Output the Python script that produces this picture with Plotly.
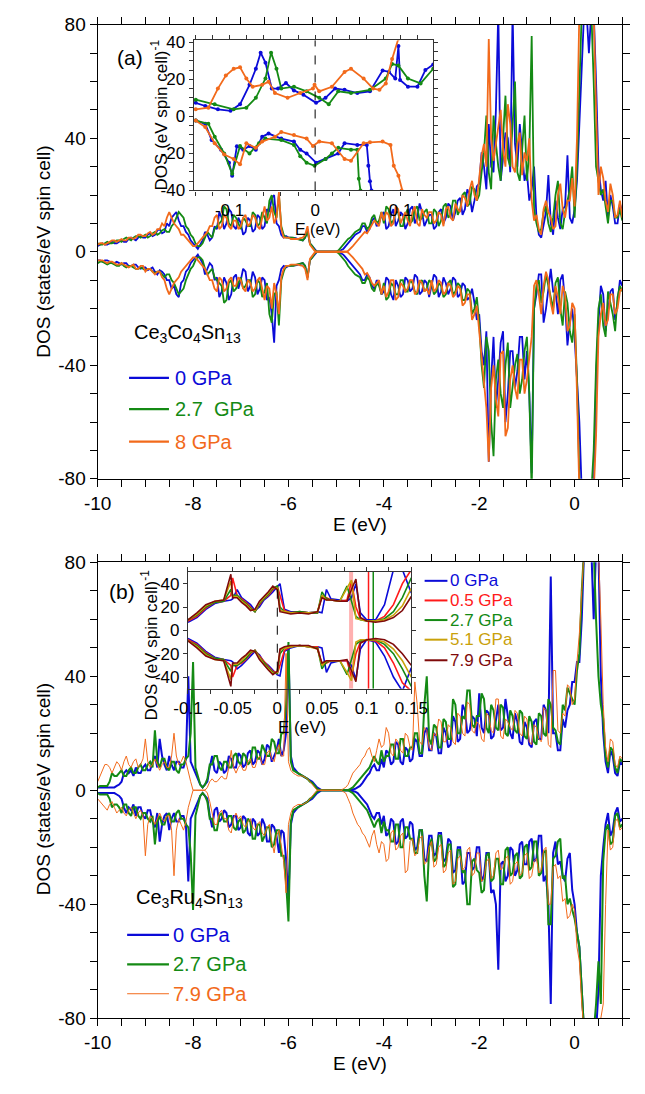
import numpy as np
import plotly.graph_objects as go

W, H = 645, 1094
FONT = "Arial, Liberation Sans, Helvetica, sans-serif"

BLUE = "#0b0bd8"
GREEN = "#148a14"
ORANGE = "#f26a1b"
RED = "#ff1a1a"
GOLD = "#c9a10a"
DARKRED = "#7f0a0a"

# ---------------- main energy grid (eV), 0.05 eV sampling ----------------
E_main = np.round(np.arange(-10.0, 1.0001, 0.05), 2)

# ---------------- panel (a) Ce3Co4Sn13 (rows of 1 eV) ----------------
co_0_up = [2, 2.5, 3, 2.5, 2.5, 3, 3.5, 3, 3, 3.5, 4, 3.5, 3.5, 4.5, 5, 4.5, 4, 5, 5.5, 5,
           5, 6, 6.5, 5.5, 6, 7.5, 8, 6.5, 7, 10, 9, 12, 13, 14, 11, 9, 9, 7, 6, 4,
           3, 2, 1, 2.5, 4, 7, 6, 4, 5, 9, 8, 14, 12, 8, 10, 15, 14, 9, 8, 12,
           10, 6, 7, 12, 11, 7, 8, 13, 12, 8, 9, 15, 14, 19, 20, 10, 9, 6, 5, 5.5,
           5, 5, 5, 4.8, 4.5, 4.3, 4, 5, 8, 3, 2, 0.8, 0, 0, 0, 0, 0, 0, 0, 0,
           0, 0, 0.5, 1, 2, 3, 4, 5, 6, 6.5, 7, 9, 9, 7, 8, 11, 12, 9, 10, 13,
           14, 8, 9, 13, 15, 9, 11, 14, 13, 8, 10, 15, 16, 10, 12, 17, 14, 9, 11, 13,
           13, 8, 9, 14, 15, 10, 12, 17, 16, 11, 14, 18, 19, 13, 15, 22, 20, 14, 18, 23,
           24, 35, 30, 22, 45, 30, 28, 50, 85, 25, 33, 42, 40, 28, 85, 38, 30, 45, 35, 25,
           28, 18, 22, 30, 12, 6, 5, 9, 14, 27, 10, 6, 18, 12, 8, 15, 16, 34, 12, 10,
           15, 25, 45, 70, 85, 85, 70, 85, 85, 60, 30, 22, 18, 25, 12, 20, 16, 10, 10, 17,
           14]
co_0_dn = [-3, -3, -3.5, -3, -3, -3.5, -4, -4, -3.5, -4, -4.5, -4, -4, -5, -5, -4.5, -4.5, -5.5, -6, -5.5,
           -5.5, -6.5, -6, -5.5, -7, -8, -6.5, -7, -8, -10, -10, -13, -12, -15, -16, -11, -10, -7, -6, -4,
           -3, -2, -1, -2.5, -4, -8, -6, -4, -5, -10, -9, -16, -14, -9, -11, -17, -15, -9, -8, -13,
           -10, -6, -7, -14, -12, -7, -9, -15, -13, -9, -10, -17, -16, -22, -32, -12, -10, -6, -5, -5.5,
           -5, -5, -5, -4.8, -4.5, -4.3, -4, -5, -9, -3, -2, -0.8, 0, 0, 0, 0, 0, 0, 0, 0,
           0, 0, -0.5, -1, -2, -3, -4, -5, -6, -7, -8, -10, -10, -8, -9, -12, -13, -10, -11, -15,
           -14, -9, -10, -15, -17, -10, -12, -16, -15, -9, -10, -14, -13, -8, -9, -15, -14, -10, -11, -16,
           -12, -8, -9, -16, -14, -9, -11, -15, -13, -9, -10, -16, -15, -11, -12, -17, -16, -13, -18, -24,
           -22, -35, -40, -28, -74, -45, -30, -55, -45, -32, -28, -60, -50, -35, -35, -48, -42, -30, -30, -45,
           -35, -50, -78, -20, -15, -8, -8, -25, -20, -12, -6, -14, -14, -22, -10, -8, -18, -33, -25, -20,
           -30, -45, -60, -85, -85, -85, -85, -85, -85, -45, -25, -12, -15, -28, -20, -14, -13, -24, -18, -10,
           -12]
co_27_up = [3, 2.5, 2.5, 3, 3.5, 3, 3, 3.5, 4, 4, 3.5, 4.5, 5, 4.5, 4, 5, 5.5, 5.5, 5, 5.5,
            6, 5, 5.5, 6.5, 7, 6, 6.5, 7.5, 8, 7, 7, 9, 10, 12, 14, 13, 12, 9, 8, 6,
            5, 3, 2, 2, 3, 5, 7, 6, 5, 8, 9, 10, 11, 16, 15, 10, 9, 13, 12, 10,
            8, 12, 11, 9, 9, 14, 13, 9, 10, 14, 12, 10, 18, 20, 14, 12, 20, 9, 6, 5,
            5, 5, 5, 4.6, 4.5, 4.2, 4, 5, 7, 3, 2, 0.6, 0, 0, 0, 0, 0, 0, 0, 0,
            0, 0.5, 1.5, 2.5, 3.5, 4.5, 5, 6, 7, 7.5, 8, 10, 10, 8, 9, 12, 13, 10, 11, 14,
            10, 16, 15, 10, 11, 14, 14, 9, 9, 13, 15, 10, 11, 15, 16, 11, 12, 14, 15, 10,
            10, 15, 14, 9, 11, 16, 17, 12, 13, 18, 18, 13, 15, 20, 21, 16, 17, 23, 22, 18,
            20, 28, 35, 48, 28, 22, 48, 38, 30, 25, 42, 55, 33, 30, 45, 60, 28, 25, 36, 48,
            25, 35, 76, 15, 10, 7, 8, 14, 16, 10, 7, 12, 20, 25, 10, 8, 14, 18, 22, 30,
            12, 30, 60, 85, 85, 85, 85, 85, 60, 30, 25, 20, 22, 16, 10, 18, 18, 12, 12, 15,
            11]
co_27_dn = [-4, -3.5, -3.5, -4, -4.5, -4, -4, -4.5, -5, -5, -4, -5, -5.5, -5, -5, -5.5, -6, -6, -5.5, -6,
            -6.5, -6, -6, -7, -7.5, -7, -7, -8, -9, -8, -8, -10, -11, -13, -15, -14, -13, -10, -8, -6,
            -5, -3, -2, -2, -3, -6, -8, -7, -6, -9, -10, -11, -12, -18, -17, -11, -10, -14, -13, -11,
            -9, -13, -12, -10, -10, -16, -15, -10, -11, -16, -14, -11, -22, -25, -15, -14, -26, -10, -7, -5,
            -5, -5, -5, -4.6, -4.5, -4.2, -4, -5, -9, -3, -2, -0.6, 0, 0, 0, 0, 0, 0, 0, 0,
            0, -0.5, -1.5, -2.5, -3.5, -5, -6, -7, -8, -8.5, -9, -11, -11, -9, -10, -13, -14, -11, -12, -15,
            -11, -17, -16, -11, -12, -15, -15, -10, -10, -14, -14, -10, -11, -14, -15, -11, -10, -14, -13, -10,
            -11, -15, -14, -11, -12, -16, -15, -11, -10, -15, -14, -11, -12, -17, -17, -13, -14, -22, -20, -16,
            -25, -40, -48, -30, -35, -60, -72, -45, -38, -50, -55, -40, -32, -55, -48, -40, -36, -50, -45, -35,
            -30, -50, -85, -20, -12, -10, -18, -14, -8, -12, -16, -20, -11, -9, -20, -26, -14, -18, -28, -32,
            -22, -45, -80, -85, -85, -85, -85, -85, -70, -40, -20, -15, -26, -30, -14, -18, -22, -28, -16, -12,
            -14]
co_8_up = [2.5, 3, 3, 2.5, 3, 3.5, 4, 4, 3.5, 4, 4.5, 4, 4, 5, 5, 4.5, 5, 6, 6, 5.5,
           5.5, 6.5, 7, 6, 6.5, 8, 8, 10, 9, 12, 14, 12, 10, 9, 8, 6, 6, 5, 4, 3,
           2, 2, 3, 4, 5, 6, 7, 9, 9, 12, 13, 8, 9, 13, 12, 9, 8, 11, 11, 8,
           9, 12, 13, 9, 10, 13, 12, 9, 8, 12, 16, 11, 12, 16, 10, 12, 21, 8, 5, 5,
           5, 4.5, 4.5, 4.5, 4.5, 4.8, 5, 6, 9, 2.5, 1.5, 0.3, 0, 0, 0, 0, 0, 0, 0, 0,
           0, 0, 0, 0, 0, 0.3, 1, 2, 3, 4, 5, 6, 7, 6.5, 8, 10, 11, 10, 9, 14,
           11, 14, 13, 9, 10, 16, 15, 10, 12, 14, 11, 9, 14, 16, 10, 9, 15, 13, 12, 14,
           14, 10, 11, 14, 13, 9, 15, 16, 12, 11, 17, 15, 14, 20, 19, 16, 22, 25, 20, 18,
           26, 34, 38, 30, 75, 40, 32, 38, 44, 50, 36, 30, 52, 45, 30, 28, 38, 42, 27, 35,
           32, 40, 18, 11, 13, 8, 6, 15, 18, 14, 12, 8, 9, 20, 24, 15, 12, 18, 18, 26,
           16, 40, 85, 85, 85, 85, 85, 85, 85, 50, 20, 30, 26, 18, 14, 24, 20, 12, 13, 18,
           12]
co_8_dn = [-3, -3, -3, -3.5, -4, -3.5, -3.5, -4, -4.5, -4.5, -4, -4.5, -5, -5.5, -5, -4.5, -6, -6, -5, -5,
           -7, -6, -6, -7, -8, -7, -7, -9, -10, -13, -15, -13, -11, -10, -9, -7, -6, -5, -4, -3,
           -2, -2, -3, -4, -5, -6, -8, -10, -10, -13, -14, -9, -10, -14, -13, -10, -9, -12, -12, -9,
           -10, -13, -14, -10, -11, -14, -13, -10, -9, -13, -17, -12, -13, -20, -11, -15, -22, -9, -6, -5,
           -5, -4.5, -4.5, -4.5, -4.5, -4.8, -5, -6, -10, -2.5, -1.5, -0.3, 0, 0, 0, 0, 0, 0, 0, 0,
           0, 0, 0, 0, 0, -0.3, -1, -2, -3, -4, -5, -6, -8, -7.5, -9, -11, -12, -11, -10, -15,
           -12, -16, -14, -10, -10, -17, -16, -11, -12, -14, -13, -10, -10, -15, -14, -10, -11, -14, -13, -15,
           -10, -14, -13, -10, -11, -15, -14, -11, -12, -16, -15, -12, -13, -19, -18, -15, -15, -24, -22, -19,
           -28, -38, -45, -55, -74, -48, -40, -52, -58, -36, -35, -65, -62, -45, -40, -48, -52, -38, -38, -50,
           -45, -38, -30, -12, -10, -15, -22, -12, -7, -10, -18, -22, -12, -16, -22, -12, -15, -28, -26, -18,
           -20, -50, -85, -85, -85, -85, -85, -85, -85, -65, -30, -22, -18, -26, -24, -15, -15, -22, -20, -14,
           -13]

# inset (a): energies near E_F and DOS
ia_0_up_E = [-0.1396, -0.1285, -0.1137, -0.0989, -0.0878, -0.0767, -0.0693, -0.0637, -0.0581, -0.0507,
             -0.0433, -0.0341, -0.0248, -0.0137, 0.0011, 0.0122, 0.0233, 0.0344, 0.0493, 0.0641,
             0.0789, 0.0863, 0.0937, 0.0974, 0.0993, 0.1085, 0.1196, 0.1289, 0.1381]
ia_0_up = [7.3, 5.6, 3.8, 3, 6.5, 17, 25.7, 34.4, 29, 15,
           15, 18, 14, 11.7, 7.3, 10, 15, 14.3, 12.6, 13.5,
           24.8, 24, 20.4, 38, 19.6, 16, 16, 25, 28]
ia_27_up_E = [-0.1396, -0.1174, -0.0952, -0.0804, -0.0693, -0.0581, -0.0515, -0.0452, -0.0396, -0.0248,
              -0.0100, 0.0048, 0.0159, 0.0270, 0.0419, 0.0641, 0.0826, 0.0900, 0.0974, 0.1085,
              0.1233, 0.1381]
ia_27_up = [9, 6.5, 3.8, 4.7, 10, 20.4, 34.4, 25.7, 15, 16,
            13.5, 10, 6.5, 13.5, 12.6, 14.3, 20.4, 28.3, 27.4, 20.4,
            17.8, 25.7]
ia_8_up_E = [-0.1396, -0.1248, -0.1137, -0.1044, -0.0952, -0.0878, -0.0804, -0.0730, -0.0619, -0.0544,
             -0.0470, -0.0322, -0.0174, -0.0026, -0.0007, 0.0048, 0.0196, 0.0344, 0.0419, 0.0567,
             0.0678, 0.0752, 0.0826, 0.0900, 0.0974]
ia_8_up = [3.8, 4.7, 15, 22, 25.7, 26.5, 20.4, 16, 17, 18.7,
           12.6, 10, 12.6, 15, 17, 13.5, 16, 24, 25.7, 20.4,
           15, 14.3, 17.8, 31, 42]
ia_0_dn_E = [-0.1396, -0.1285, -0.1211, -0.1100, -0.1007, -0.0970, -0.0915, -0.0841, -0.0767, -0.0693,
             -0.0619, -0.0544, -0.0396, -0.0248, -0.0174, -0.0100, 0.0011, 0.0122, 0.0270, 0.0344,
             0.0493, 0.0604, 0.0622, 0.0641, 0.0659, 0.0696]
ia_0_dn = [-2.3, -4, -12.8, -18, -25, -32, -16.2, -18, -16, -18,
           -11, -9.3, -12, -13.6, -18, -20, -25, -23, -20, -14.5,
           -15.4, -15.4, -26.7, -35, -40, -45]
ia_27_dn_E = [-0.1396, -0.1248, -0.1174, -0.1063, -0.0970, -0.0878, -0.0767, -0.0656, -0.0581, -0.0396,
              -0.0248, -0.0174, -0.0100, -0.0007, 0.0122, 0.0196, 0.0270, 0.0419, 0.0493, 0.0511,
              0.0530, 0.0567]
ia_27_dn = [-2.3, -4, -11, -20, -31, -16, -20, -14.5, -12, -12.8,
            -15.4, -21.5, -25, -26.7, -23, -20, -17, -18, -18, -33.7,
            -40, -45]
ia_8_dn_E = [-0.1396, -0.1285, -0.1174, -0.1063, -0.0952, -0.0878, -0.0804, -0.0693, -0.0619, -0.0470,
             -0.0396, -0.0248, -0.0100, -0.0026, 0.0048, 0.0196, 0.0344, 0.0419, 0.0567, 0.0641,
             0.0789, 0.0881, 0.0919, 0.0974, 0.1011, 0.1048]
ia_8_dn = [-2.3, -5.8, -14.5, -20.6, -23, -25.9, -14.5, -17, -13.6, -11,
           -8.4, -10, -12, -16, -13.6, -14.5, -23, -24, -14.5, -14,
           -13.6, -15.4, -26.7, -32, -40, -45]

# ---------------- panel (b) Ce3Ru4Sn13 (rows of 1 eV) ----------------
ru_0_up = [1, 1, 1, 1, 1, 1, 1, 1, 1.5, 2, 3, 6, 7, 6, 7, 5, 8, 6, 6, 8,
           9, 7, 7, 10, 12, 8, 18, 12, 9, 7, 12, 9, 7, 10, 10, 8, 8, 11, 40, 10,
           8, 6, 4, 2, 1, 2, 3, 8, 12, 7, 6, 10, 9, 6, 7, 12, 11, 8, 8, 13,
           12, 8, 9, 13, 14, 9, 10, 14, 13, 9, 11, 16, 15, 10, 12, 14, 18, 12, 14, 20,
           50, 12, 8, 7, 6, 5.5, 5, 4.5, 4, 3.5, 3, 2, 1, 0.5, 0, 0, 0, 0, 0, 0,
           0, 0, 0, 0, 0, 0, 0, 0.3, 0.5, 1, 1.5, 2.5, 4, 5, 6, 8, 9, 7, 7, 11,
           8, 14, 13, 9, 10, 17, 16, 10, 9, 15, 14, 10, 11, 18, 17, 12, 12, 20, 22, 14,
           14, 20, 19, 13, 13, 22, 20, 15, 16, 26, 24, 17, 18, 30, 28, 20, 21, 26, 25, 19,
           34, 22, 20, 28, 27, 18, 19, 25, 30, 21, 22, 32, 26, 20, 18, 27, 24, 17, 16, 24,
           22, 16, 15, 24, 25, 18, 18, 30, 28, 20, 75, 20, 20, 14, 14, 25, 22, 28, 30, 38,
           38, 45, 45, 60, 85, 85, 85, 85, 60, 85, 85, 40, 20, 10, 6, 14, 12, 6, 5, 10,
           9]
ru_0_dn = [-1, -1, -1, -1, -1, -1, -1, -1, -1.5, -2, -3, -6, -8, -6, -7, -5, -9, -6, -6, -9,
           -10, -7, -7, -11, -13, -8, -18, -12, -9, -8, -14, -10, -8, -11, -11, -9, -9, -12, -32, -10,
           -8, -6, -4, -2, -1, -2, -3, -9, -13, -7, -6, -11, -10, -7, -8, -13, -12, -9, -9, -14,
           -13, -9, -10, -15, -16, -10, -11, -16, -15, -10, -12, -18, -18, -12, -13, -16, -22, -14, -15, -24,
           -38, -12, -8, -7, -6, -5.5, -5, -4.5, -4, -3.5, -3, -2, -1, -0.5, 0, 0, 0, 0, 0, 0,
           0, 0, 0, 0, 0, 0, 0, -0.3, -0.5, -1, -2, -3, -4, -5, -7, -9, -10, -8, -8, -12,
           -9, -16, -15, -10, -11, -19, -18, -11, -10, -17, -16, -11, -12, -21, -20, -14, -14, -24, -25, -16,
           -16, -23, -22, -15, -15, -25, -24, -17, -18, -29, -28, -20, -20, -33, -32, -22, -22, -28, -27, -20,
           -20, -32, -30, -22, -22, -36, -35, -40, -63, -26, -25, -32, -30, -20, -21, -30, -28, -19, -18, -26,
           -26, -18, -17, -25, -24, -16, -16, -32, -30, -40, -75, -22, -18, -26, -25, -30, -32, -24, -22, -35,
           -40, -50, -55, -70, -85, -85, -85, -85, -85, -85, -70, -30, -20, -12, -8, -16, -14, -8, -6, -11,
           -10]
ru_27_up = [1, 1.5, 1.5, 1.5, 1.5, 3, 6, 5, 5, 6, 7, 5, 5, 7, 8, 6, 6, 8, 9, 7,
            7, 9, 10, 8, 21, 10, 8, 11, 11, 8, 7, 10, 10, 7, 6, 9, 9, 11, 12, 20,
            45, 8, 5, 2, 1, 2, 4, 9, 9, 12, 12, 8, 7, 10, 10, 8, 8, 12, 13, 10,
            9, 13, 12, 9, 10, 15, 15, 11, 11, 16, 14, 12, 12, 18, 17, 13, 13, 20, 20, 30,
            52, 10, 7, 6.5, 6, 5.5, 5, 4.5, 4, 3, 2.5, 1.5, 0.5, 0, 0, 0, 0, 0, 0, 0,
            0, 0, 0, 0, 0, 0, 0.5, 1, 2, 3, 4, 5, 6, 7, 8, 10, 12, 10, 9, 14,
            10, 12, 12, 16, 16, 11, 11, 18, 18, 12, 12, 15, 15, 20, 20, 13, 13, 30, 40, 18,
            16, 23, 22, 15, 15, 25, 24, 18, 18, 32, 30, 20, 20, 26, 25, 35, 35, 23, 22, 26,
            26, 34, 32, 22, 20, 30, 28, 22, 21, 30, 29, 20, 19, 28, 26, 21, 20, 28, 27, 19,
            18, 26, 24, 17, 16, 27, 26, 20, 19, 32, 30, 22, 21, 17, 16, 30, 28, 36, 34, 32,
            30, 42, 48, 70, 85, 85, 85, 85, 85, 60, 40, 30, 25, 12, 8, 15, 14, 8, 6, 11,
            10]
ru_27_dn = [-1, -1.5, -1.5, -1.5, -1.5, -3, -6, -5, -5, -6, -8, -5, -5, -8, -9, -6, -6, -9, -10, -8,
            -8, -10, -11, -9, -19, -11, -9, -12, -12, -9, -8, -11, -11, -8, -7, -10, -10, -12, -13, -22,
            -42, -9, -5, -2, -1, -2, -4, -10, -10, -14, -14, -9, -8, -11, -11, -9, -9, -13, -14, -11,
            -10, -15, -14, -10, -11, -17, -17, -12, -12, -18, -16, -13, -13, -20, -19, -14, -14, -23, -23, -32,
            -46, -11, -7, -6.5, -6, -5.5, -5, -4.5, -4, -3, -2.5, -1.5, -0.5, 0, 0, 0, 0, 0, 0, 0,
            0, 0, 0, 0, 0, 0, -0.5, -1, -2, -3, -4, -5, -6, -7, -9, -11, -13, -11, -10, -15,
            -11, -14, -14, -18, -18, -12, -12, -20, -20, -13, -13, -17, -17, -22, -22, -14, -14, -30, -39, -20,
            -17, -25, -24, -16, -16, -27, -26, -19, -19, -34, -33, -21, -21, -29, -28, -40, -40, -25, -24, -28,
            -29, -36, -35, -23, -22, -32, -31, -24, -24, -33, -33, -21, -20, -30, -29, -23, -22, -31, -30, -20,
            -19, -28, -27, -18, -18, -30, -29, -22, -21, -47, -47, -24, -23, -18, -17, -31, -30, -40, -38, -42,
            -45, -50, -55, -70, -85, -85, -85, -85, -85, -75, -60, -75, -25, -14, -12, -19, -18, -9, -8, -13,
            -12]
ru_79_up = [3, 5, 7, 9, 9, 8, 6, 8, 10, 9, 7, 10, 12, 9, 8, 10, 11, 8, 9, 11,
            18, 10, 8, 9, 11, 9, 7, 9, 10, 8, 8, 12, 20, 12, 9, 10, 12, 10, 6, 3,
            0, 0, 0, 0, 0, 0, 1, 3, 4, 3, 3, 4, 5, 4, 4, 8, 14, 8, 6, 8,
            9, 7, 7, 10, 11, 8, 8, 11, 12, 9, 9, 13, 14, 11, 10, 14, 16, 12, 12, 48,
            10, 7, 6, 5.5, 5, 5, 5, 4.5, 4, 3, 2, 1, 0, 0, 0, 0, 0, 0, 0, 0,
            0, 0, 0, 0.5, 1, 2, 4, 6, 7, 8, 9, 11, 12, 14, 15, 12, 10, 14, 18, 15,
            16, 22, 20, 13, 12, 18, 17, 14, 13, 20, 19, 15, 14, 38, 30, 17, 16, 22, 21, 15,
            14, 20, 19, 25, 24, 17, 17, 23, 22, 17, 16, 27, 26, 20, 19, 31, 30, 21, 20, 24,
            23, 18, 17, 27, 26, 21, 20, 32, 32, 19, 18, 25, 24, 22, 21, 28, 27, 20, 19, 26,
            25, 17, 16, 23, 22, 18, 17, 29, 28, 16, 15, 42, 42, 21, 20, 27, 26, 37, 36, 30,
            32, 45, 55, 70, 85, 85, 85, 85, 85, 85, 85, 60, 30, 15, 10, 18, 17, 9, 8, 12,
            11]
ru_79_dn = [-3, -4, -5, -6, -7, -5, -4, -6, -8, -7, -6, -8, -9, -7, -6, -8, -10, -8, -7, -9,
            -23, -12, -9, -10, -12, -10, -8, -10, -11, -9, -9, -14, -30, -14, -10, -12, -14, -11, -6, -3,
            0, 0, 0, 0, 0, 0, -1, -4, -8, -12, -12, -8, -7, -10, -10, -14, -15, -10, -8, -10,
            -9, -12, -13, -11, -10, -13, -14, -12, -11, -15, -16, -13, -12, -18, -22, -16, -14, -20, -25, -36,
            -12, -8, -6, -5.5, -5, -5, -5, -4.5, -4, -3, -2, -1, 0, 0, 0, 0, 0, 0, 0, 0,
            0, 0, 0, -0.5, -1, -3, -5, -8, -10, -12, -13, -15, -16, -18, -20, -16, -14, -19, -22, -18,
            -19, -25, -24, -15, -14, -21, -20, -16, -15, -29, -28, -18, -17, -23, -22, -17, -16, -26, -25, -20,
            -18, -27, -26, -20, -19, -29, -28, -22, -21, -33, -32, -24, -23, -28, -27, -21, -20, -30, -29, -22,
            -22, -32, -31, -25, -24, -31, -30, -22, -21, -28, -27, -24, -23, -33, -32, -26, -25, -30, -29, -23,
            -22, -31, -30, -25, -24, -29, -28, -21, -20, -40, -40, -27, -26, -31, -30, -39, -38, -45, -44, -40,
            -42, -55, -60, -75, -85, -85, -85, -85, -85, -85, -85, -80, -75, -40, -14, -21, -20, -11, -10, -14,
            -13]

# inset (b)
ib_E = [-0.1, -0.09, -0.08, -0.07, -0.06, -0.052, -0.05, -0.045, -0.04, -0.035,
        -0.03, -0.025, -0.02, -0.015, -0.01, -0.005, 0.0, 0.003, 0.008, 0.015,
        0.025, 0.035, 0.045, 0.05, 0.055, 0.06, 0.07, 0.078, 0.083, 0.088,
        0.093, 0.1, 0.11, 0.12, 0.13, 0.14, 0.15]
ib_up = {
    "0 GPa":   [7, 11, 18, 23, 25, 26, 27, 35, 28, 25, 22, 17, 20, 26, 29, 33, 37, 40, 18, 16,
                16, 15, 16, 15, 35, 27, 26, 25, 28, 40, 15, 9, 9, 22, 52, 52, 32],
    "0.5 GPa": [8, 12, 19, 24, 25, 30, 45, 30, 27, 24, 20, 16, 22, 27, 30, 35, 38, 30, 17, 15,
                16, 15, 15, 30, 28, 26, 25, 26, 42, 20, 10, 8, 8, 12, 22, 40, 52],
    "2.7 GPa": [9, 13, 20, 24, 25, 35, 30, 30, 26, 23, 19, 16, 23, 27, 31, 36, 38, 20, 16, 15,
                16, 15, 15, 33, 27, 26, 25, 38, 25, 12, 9, 8, 8, 10, 16, 28, 45],
    "5.1 GPa": [9, 14, 21, 25, 26, 42, 29, 29, 25, 22, 18, 17, 24, 28, 32, 37, 36, 17, 16, 15,
                15, 15, 16, 30, 26, 26, 25, 36, 43, 10, 9, 8, 8, 9, 13, 21, 36],
    "7.9 GPa": [9, 15, 22, 25, 26, 48, 28, 28, 24, 21, 17, 18, 25, 29, 33, 38, 35, 16, 15, 14,
                15, 14, 16, 28, 26, 26, 25, 25, 35, 44, 11, 8, 7, 8, 11, 17, 29],
}
ib_dn = {
    "0 GPa":   [-7, -11, -18, -23, -25, -26, -27, -33, -30, -26, -22, -18, -21, -27, -30, -34, -38, -39, -18, -15,
                -13, -14, -14, -15, -36, -28, -26, -26, -30, -42, -16, -8, -10, -22, -40, -52, -32],
    "0.5 GPa": [-8, -12, -19, -24, -25, -30, -40, -30, -28, -25, -20, -17, -22, -27, -31, -35, -37, -30, -17, -14,
                -13, -14, -14, -30, -28, -26, -26, -26, -40, -20, -10, -8, -9, -15, -28, -45, -52],
    "2.7 GPa": [-9, -13, -20, -24, -25, -35, -30, -30, -27, -24, -19, -17, -23, -28, -32, -36, -37, -20, -15, -14,
                -13, -14, -15, -33, -27, -26, -26, -38, -25, -12, -9, -8, -8, -12, -20, -33, -48],
    "5.1 GPa": [-9, -14, -21, -25, -26, -42, -29, -29, -26, -22, -18, -18, -24, -29, -33, -37, -36, -17, -15, -14,
                -13, -14, -16, -30, -26, -26, -26, -36, -43, -10, -8, -8, -8, -10, -16, -26, -40],
    "7.9 GPa": [-9, -15, -22, -25, -26, -48, -28, -28, -24, -21, -17, -18, -25, -30, -34, -38, -35, -16, -14, -13,
                -13, -13, -16, -28, -26, -26, -26, -25, -35, -44, -11, -8, -7, -8, -12, -20, -30],
}
ib_colors = {"0 GPa": BLUE, "0.5 GPa": RED, "2.7 GPa": GREEN, "5.1 GPa": GOLD, "7.9 GPa": DARKRED}
ib_spike_E = [0.0826, 0.1021, 0.1074]
ib_spike_color = ["rgba(255,80,80,0.45)", RED, GREEN]
ib_spike_width = [4, 1.5, 1.5]


def px(x):
    return x / W


def py(y):
    return 1 - y / H


fig = go.Figure()

# ---- panel (a) main ----
for up, dn, col in [(co_0_up, co_0_dn, BLUE), (co_27_up, co_27_dn, GREEN), (co_8_up, co_8_dn, ORANGE)]:
    for vals in (up, dn):
        fig.add_trace(go.Scatter(x=E_main, y=vals, mode="lines", line=dict(color=col, width=1.8),
                                 xaxis="x", yaxis="y", showlegend=False, hoverinfo="skip"))

# ---- inset (a) ----
for xe, vals, col in [(ia_0_up_E, ia_0_up, BLUE), (ia_0_dn_E, ia_0_dn, BLUE),
                      (ia_27_up_E, ia_27_up, GREEN), (ia_27_dn_E, ia_27_dn, GREEN),
                      (ia_8_up_E, ia_8_up, ORANGE), (ia_8_dn_E, ia_8_dn, ORANGE)]:
    fig.add_trace(go.Scatter(x=xe, y=vals, mode="lines+markers", line=dict(color=col, width=1.8),
                             marker=dict(color=col, size=4), xaxis="x2", yaxis="y2",
                             showlegend=False, hoverinfo="skip"))

# ---- panel (b) main ----
for up, dn, col, w in [(ru_0_up, ru_0_dn, BLUE, 2.0), (ru_27_up, ru_27_dn, GREEN, 2.0),
                       (ru_79_up, ru_79_dn, ORANGE, 1.0)]:
    for vals in (up, dn):
        fig.add_trace(go.Scatter(x=E_main, y=vals, mode="lines", line=dict(color=col, width=w),
                                 xaxis="x3", yaxis="y3", showlegend=False, hoverinfo="skip"))

# ---- inset (b) ----
for e0, c0, w0 in zip(ib_spike_E, ib_spike_color, ib_spike_width):
    fig.add_trace(go.Scatter(x=[e0, e0], y=[-50, 50], mode="lines", line=dict(color=c0, width=w0),
                             xaxis="x4", yaxis="y4", showlegend=False, hoverinfo="skip"))
for key in ["0 GPa", "0.5 GPa", "2.7 GPa", "5.1 GPa", "7.9 GPa"]:
    for vals in (ib_up[key], ib_dn[key]):
        fig.add_trace(go.Scatter(x=ib_E, y=vals, mode="lines", line=dict(color=ib_colors[key], width=1.6),
                                 xaxis="x4", yaxis="y4", showlegend=False, hoverinfo="skip"))

# ---- axes ----
main_xt = [round(v, 1) for v in np.arange(-10, 1.01, 0.5)]
main_xl = [str(int(v)) if (abs(v - round(v)) < 1e-9 and int(round(v)) % 2 == 0 and v <= 0) else "" for v in main_xt]
main_yt = list(range(-80, 81, 10))
main_yl = [str(v) if v % 40 == 0 else "" for v in main_yt]

ax_common = dict(showline=True, linecolor="black", linewidth=1.3, mirror="ticks", ticks="outside",
                 ticklen=7, tickwidth=1.2, tickcolor="black", showgrid=False, zeroline=False,
                 tickfont=dict(family=FONT, size=19, color="black"))
inset_common = dict(showline=True, linecolor="#333", linewidth=1.2, mirror="ticks", ticks="outside",
                    ticklen=4, tickwidth=1, tickcolor="#333", showgrid=False, zeroline=False,
                    tickfont=dict(family=FONT, size=17, color="black"))

ia_xt = [round(v, 2) for v in np.arange(-0.14, 0.1301, 0.02)]
ia_xl = {-0.1: "-0.1", 0.0: "0", 0.1: "0.1"}
ia_yt = list(range(-40, 41, 5))
ib_xt = [round(v, 3) for v in np.arange(-0.1, 0.1501, 0.025)]
ib_xl = {-0.1: "-0.1", -0.05: "-0.05", 0.0: "0", 0.05: "0.05", 0.1: "0.1", 0.15: "0.15"}
ib_yt = [-40, -20, 0, 20, 40]

fig.update_layout(
    width=W, height=H, margin=dict(l=0, r=0, t=0, b=0),
    paper_bgcolor="white", plot_bgcolor="rgba(0,0,0,0)",
    xaxis=dict(domain=[px(87), px(639)], range=[-10, 1], anchor="y",
               tickmode="array", tickvals=main_xt, ticktext=main_xl, **ax_common),
    yaxis=dict(domain=[py(478), py(15)], range=[-80, 80], anchor="x",
               tickmode="array", tickvals=main_yt, ticktext=main_yl, **ax_common),
    xaxis2=dict(domain=[px(188), px(440)], range=[-0.142, 0.138], anchor="y2",
                tickmode="array", tickvals=ia_xt, ticktext=[ia_xl.get(v, "") for v in ia_xt], **inset_common),
    yaxis2=dict(domain=[py(184), py(31)], range=[-40, 41], anchor="x2",
                tickmode="array", tickvals=ia_yt, ticktext=[str(v) if v % 20 == 0 else "" for v in ia_yt],
                **inset_common),
    xaxis3=dict(domain=[px(87), px(639)], range=[-10, 1], anchor="y3",
                tickmode="array", tickvals=main_xt, ticktext=main_xl, **ax_common),
    yaxis3=dict(domain=[py(1028), py(563)], range=[-80, 80], anchor="x3",
                tickmode="array", tickvals=main_yt, ticktext=main_yl, **ax_common),
    xaxis4=dict(domain=[px(182), px(417)], range=[-0.1, 0.15], anchor="y4",
                tickmode="array", tickvals=ib_xt, ticktext=[ib_xl.get(v, "") for v in ib_xt], **inset_common),
    yaxis4=dict(domain=[py(692), py(573)], range=[-50, 50], anchor="x4",
                tickmode="array", tickvals=ib_yt, ticktext=[str(v) for v in ib_yt], **inset_common),
)

# dashed E_F lines in insets
for xr, yr in [("x2", "y2 domain"), ("x4", "y4 domain")]:
    fig.add_shape(type="line", xref=xr, yref=yr, x0=0, x1=0, y0=0, y1=1,
                  line=dict(color="black", width=1, dash="dash"))

ann = []


def text(x, y, s, size, color="black", xanchor="center", angle=0):
    ann.append(dict(x=px(x), y=py(y), xref="paper", yref="paper", text=s, showarrow=False,
                    xanchor=xanchor, yanchor="middle", textangle=angle,
                    font=dict(family=FONT, size=size, color=color)))


# axis titles
text(30, 247, "DOS (states/eV spin cell)", 19, angle=-90)
text(30, 795, "DOS (states/eV spin cell)", 19, angle=-90)
text(363, 525, "E (eV)", 19)
text(363, 1074, "E (eV)", 19)
# inset titles
text(152, 107, "DOS (eV spin cell)<sup>-1</sup>", 17, angle=-90)
text(318, 224, "E (eV)", 16)
text(141, 648, "DOS (eV spin cell)<sup>-1</sup>", 17, angle=-90)
text(302, 732, "E (eV)", 17)
# panel labels
text(121, 48, "(a)", 21)
text(113, 593, "(b)", 21)
# compound names
text(123, 330, "Ce<sub>3</sub>Co<sub>4</sub>Sn<sub>13</sub>", 20, xanchor="left")
text(125, 906, "Ce<sub>3</sub>Ru<sub>4</sub>Sn<sub>13</sub>", 20, xanchor="left")

# legends
leg_a = [("0 GPa", BLUE, 375, 2.2), ("2.7\u00a0 GPa", GREEN, 407, 2.2), ("8 GPa", ORANGE, 440, 2.2)]
for lab, col, yy, w in leg_a:
    fig.add_shape(type="line", xref="paper", yref="paper", x0=px(120), x1=px(162), y0=py(yy), y1=py(yy),
                  line=dict(color=col, width=w))
    text(166, yy, lab, 20, color=col, xanchor="left")
leg_b = [("0 GPa", BLUE, 943, 2.2), ("2.7 GPa", GREEN, 973, 2.2), ("7.9 GPa", ORANGE, 1003, 1.0)]
for lab, col, yy, w in leg_b:
    fig.add_shape(type="line", xref="paper", yref="paper", x0=px(118), x1=px(162), y0=py(yy), y1=py(yy),
                  line=dict(color=col, width=w))
    text(164, yy, lab, 20, color=col, xanchor="left")
leg_ib = [("0 GPa", BLUE, 582), ("0.5 GPa", RED, 602), ("2.7 GPa", GREEN, 622),
          ("5.1 GPa", GOLD, 642), ("7.9 GPa", DARKRED, 663)]
for lab, col, yy in leg_ib:
    fig.add_shape(type="line", xref="paper", yref="paper", x0=px(431), x1=px(455), y0=py(yy), y1=py(yy),
                  line=dict(color=col, width=2))
    text(456, yy, lab, 17, color=col, xanchor="left")

fig.update_layout(annotations=ann)
fig.write_html("out.html")
